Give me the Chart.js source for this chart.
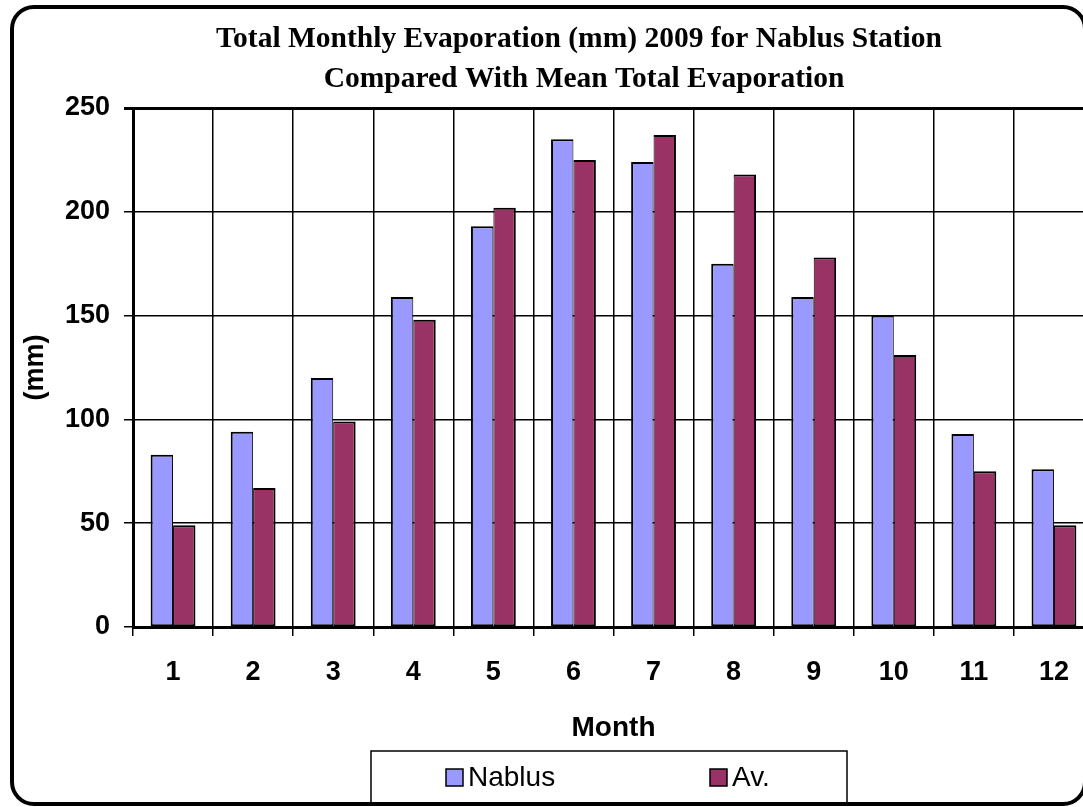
<!DOCTYPE html>
<html><head><meta charset="utf-8">
<script src="https://cdn.jsdelivr.net/npm/chart.js@4/dist/chart.umd.min.js"></script>
<style>
html,body{margin:0;padding:0;background:#fff;overflow:hidden;width:1083px;height:807px}
#wrap{position:absolute;left:0;top:0;width:1100px;height:807px}
</style></head>
<body><div id="wrap"><canvas id="c" width="1100" height="807"></canvas></div>
<script>
const months = ['1','2','3','4','5','6','7','8','9','10','11','12'];
const nablus = [83, 94, 120, 159, 193, 235, 224, 175, 159, 150, 93, 76];
const average = [49, 67, 99, 148, 202, 225, 237, 218, 178, 131, 75, 49];
const seriesNames = ['Nablus', 'Av.'];
const seriesColors = ['#9999FF', '#993366'];
const titleLines = ['Total Monthly Evaporation (mm) 2009 for Nablus Station', 'Compared With Mean Total Evaporation'];
const xTitle = 'Month';
const yTitle = '(mm)';
const yMin = 0, yMax = 250, yStep = 50;

const framePlugin = {
  id: 'frame',
  beforeDraw(chart) {
    const ctx = chart.ctx;
    ctx.save();
    ctx.fillStyle = '#fff';
    ctx.fillRect(0, 0, chart.width, chart.height);
    ctx.strokeStyle = '#000';
    ctx.lineWidth = 4;
    ctx.beginPath();
    ctx.roundRect(12, 7, 1073, 797, 22);
    ctx.stroke();
    ctx.restore();
  }
};

const titlePlugin = {
  id: 'customTitle',
  afterDraw(chart) {
    const ctx = chart.ctx;
    ctx.save();
    ctx.fillStyle = '#000';
    ctx.font = 'bold 29.5px "Liberation Serif", "Times New Roman", serif';
    ctx.textAlign = 'center';
    ctx.textBaseline = 'middle';
    ctx.fillText(titleLines[0], 579, 39);
    ctx.fillText(titleLines[1], 584, 79);
    ctx.restore();
  }
};

const legendPlugin = {
  id: 'customLegend',
  afterDraw(chart) {
    const ctx = chart.ctx;
    ctx.save();
    ctx.strokeStyle = '#000';
    ctx.lineWidth = 1.5;
    ctx.strokeRect(371, 751, 476, 52);
    const xs = [446, 710];
    ctx.font = '28px "Liberation Sans", Arial, sans-serif';
    ctx.textBaseline = 'middle';
    ctx.textAlign = 'left';
    chart.data.datasets.forEach((ds, i) => {
      ctx.fillStyle = ds.backgroundColor;
      ctx.fillRect(xs[i], 769, 17, 17);
      ctx.lineWidth = 1.5;
      ctx.strokeRect(xs[i], 769, 17, 17);
      ctx.fillStyle = '#000';
      ctx.fillText(ds.label, xs[i] + 22, 778);
    });
    ctx.restore();
  }
};

new Chart(document.getElementById('c'), {
  type: 'bar',
  data: {
    labels: months,
    datasets: [
      { label: seriesNames[0], data: nablus, backgroundColor: seriesColors[0],
        borderWidth: { top: 2, left: 2, bottom: 2, right: 1 } },
      { label: seriesNames[1], data: average, backgroundColor: seriesColors[1],
        borderWidth: { top: 2, left: 1, bottom: 2, right: 2 } }
    ]
  },
  options: {
    responsive: false,
    animation: false,
    devicePixelRatio: 1,
    layout: { padding: { top: 108, left: 0, right: 6, bottom: 50 } },
    datasets: {
      bar: {
        borderColor: '#000',
        borderSkipped: false,
        categoryPercentage: 0.56,
        barPercentage: 1.0
      }
    },
    plugins: {
      legend: { display: false },
      title: { display: false },
      tooltip: { enabled: false }
    },
    scales: {
      x: {
        grid: { color: '#000', lineWidth: 1.5, tickLength: 9, offset: true },
        border: { color: '#000', width: 3 },
        ticks: { color: '#000', padding: 20, font: { family: '"Liberation Sans", Arial, sans-serif', weight: 'bold', size: 27 } },
        title: { display: true, text: xTitle, color: '#000', padding: { top: 0, bottom: 12 },
                 font: { family: '"Liberation Sans", Arial, sans-serif', weight: 'bold', size: 28 } },
        afterFit(s) { s.height = 130; }
      },
      y: {
        min: yMin, max: yMax,
        grid: { color: '#000', lineWidth: ctx => (ctx.tick && ctx.tick.value === yMax) ? 3 : 1.5, tickLength: 9 },
        border: { color: '#000', width: 3 },
        ticks: { stepSize: yStep, color: '#000', padding: 14, font: { family: '"Liberation Sans", Arial, sans-serif', weight: 'bold', size: 27 } },
        title: { display: true, text: yTitle, color: '#000', padding: { top: 19, bottom: 0 },
                 font: { family: '"Liberation Sans", Arial, sans-serif', weight: 'bold', size: 27 } },
        afterFit(s) { s.width = 133; }
      }
    }
  },
  plugins: [framePlugin, titlePlugin, legendPlugin]
});
</script>
</body></html>
